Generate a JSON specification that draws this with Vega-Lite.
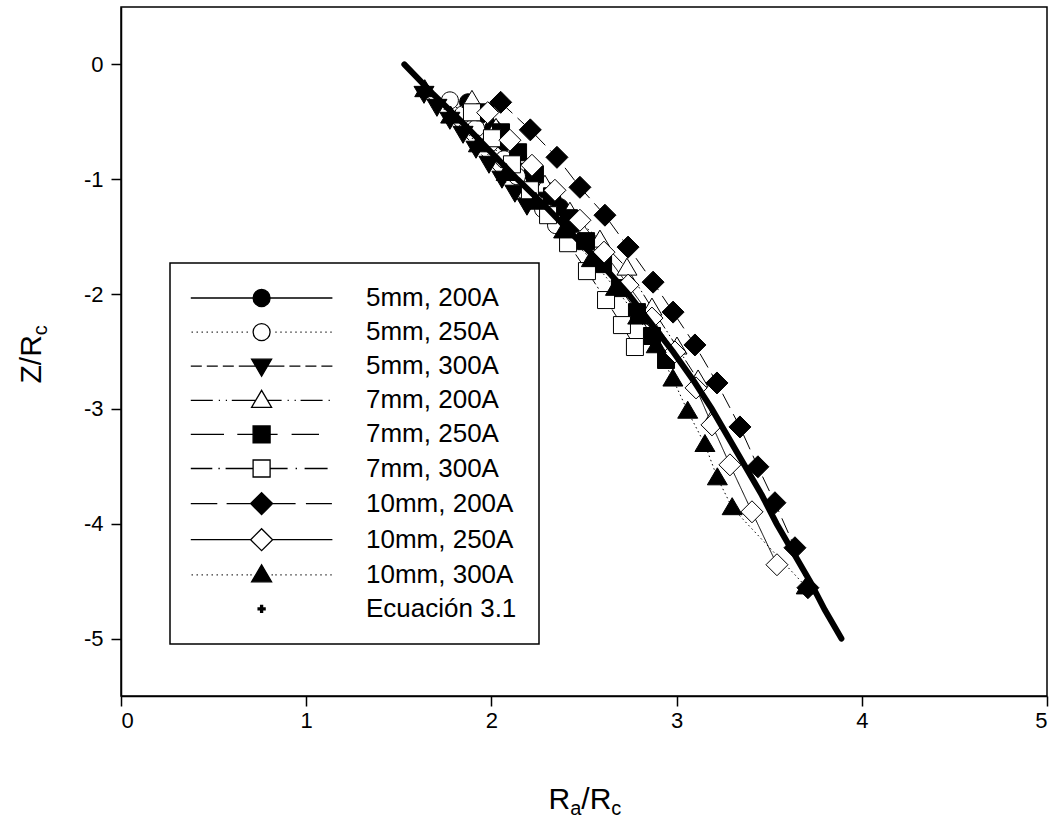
{
  "$schema": "https://vega.github.io/schema/vega-lite/v6.json",
  "width": 926,
  "height": 689,
  "autosize": "none",
  "padding": {"left": 121, "top": 7, "right": 10, "bottom": 122},
  "background": "white",
  "config": {
    "font": "Liberation Sans",
    "view": {"stroke": "black", "strokeWidth": 1.5},
    "legend": {"strokeWidth": 1.5},
    "axis": {
      "grid": false,
      "domainColor": "black",
      "domainWidth": 1.5,
      "tickColor": "black",
      "tickWidth": 1.5,
      "tickSize": 10,
      "labelFont": "Liberation Sans",
      "labelFontSize": 22,
      "labelColor": "black",
      "titleFont": "Liberation Sans",
      "titleColor": "black",
      "titleFontWeight": "normal"
    }
  },
  "data": {
    "values": [
      {"s": "5mm, 200A", "x": 1.874, "y": -0.33},
      {"s": "5mm, 200A", "x": 1.938, "y": -0.443},
      {"s": "5mm, 200A", "x": 2.009, "y": -0.557},
      {"s": "5mm, 200A", "x": 2.073, "y": -0.678},
      {"s": "5mm, 200A", "x": 2.144, "y": -0.809},
      {"s": "5mm, 200A", "x": 2.219, "y": -0.948},
      {"s": "5mm, 200A", "x": 2.295, "y": -1.096},
      {"s": "5mm, 200A", "x": 2.37, "y": -1.243},
      {"s": "5mm, 200A", "x": 2.446, "y": -1.391},
      {"s": "5mm, 250A", "x": 1.776, "y": -0.313},
      {"s": "5mm, 250A", "x": 1.847, "y": -0.435},
      {"s": "5mm, 250A", "x": 1.917, "y": -0.557},
      {"s": "5mm, 250A", "x": 1.992, "y": -0.687},
      {"s": "5mm, 250A", "x": 2.068, "y": -0.826},
      {"s": "5mm, 250A", "x": 2.138, "y": -0.974},
      {"s": "5mm, 250A", "x": 2.208, "y": -1.122},
      {"s": "5mm, 250A", "x": 2.279, "y": -1.261},
      {"s": "5mm, 250A", "x": 2.349, "y": -1.4},
      {"s": "5mm, 300A", "x": 1.636, "y": -0.252},
      {"s": "5mm, 300A", "x": 1.706, "y": -0.365},
      {"s": "5mm, 300A", "x": 1.776, "y": -0.478},
      {"s": "5mm, 300A", "x": 1.847, "y": -0.6},
      {"s": "5mm, 300A", "x": 1.917, "y": -0.73},
      {"s": "5mm, 300A", "x": 1.987, "y": -0.861},
      {"s": "5mm, 300A", "x": 2.057, "y": -0.991},
      {"s": "5mm, 300A", "x": 2.127, "y": -1.113},
      {"s": "5mm, 300A", "x": 2.192, "y": -1.226},
      {"s": "7mm, 200A", "x": 1.895, "y": -0.313},
      {"s": "7mm, 200A", "x": 2.025, "y": -0.557},
      {"s": "7mm, 200A", "x": 2.154, "y": -0.8},
      {"s": "7mm, 200A", "x": 2.289, "y": -1.052},
      {"s": "7mm, 200A", "x": 2.424, "y": -1.287},
      {"s": "7mm, 200A", "x": 2.586, "y": -1.53},
      {"s": "7mm, 200A", "x": 2.732, "y": -1.774},
      {"s": "7mm, 200A", "x": 2.867, "y": -2.122},
      {"s": "7mm, 200A", "x": 3.002, "y": -2.461},
      {"s": "7mm, 200A", "x": 3.116, "y": -2.748},
      {"s": "7mm, 200A", "x": 3.197, "y": -3.078},
      {"s": "7mm, 250A", "x": 1.965, "y": -0.417},
      {"s": "7mm, 250A", "x": 2.052, "y": -0.591},
      {"s": "7mm, 250A", "x": 2.144, "y": -0.765},
      {"s": "7mm, 250A", "x": 2.235, "y": -0.957},
      {"s": "7mm, 250A", "x": 2.327, "y": -1.148},
      {"s": "7mm, 250A", "x": 2.419, "y": -1.339},
      {"s": "7mm, 250A", "x": 2.511, "y": -1.539},
      {"s": "7mm, 250A", "x": 2.603, "y": -1.739},
      {"s": "7mm, 250A", "x": 2.694, "y": -1.948},
      {"s": "7mm, 250A", "x": 2.786, "y": -2.157},
      {"s": "7mm, 250A", "x": 2.867, "y": -2.365},
      {"s": "7mm, 250A", "x": 2.943, "y": -2.574},
      {"s": "7mm, 300A", "x": 1.895, "y": -0.417},
      {"s": "7mm, 300A", "x": 2.003, "y": -0.643},
      {"s": "7mm, 300A", "x": 2.111, "y": -0.87},
      {"s": "7mm, 300A", "x": 2.208, "y": -1.096},
      {"s": "7mm, 300A", "x": 2.306, "y": -1.313},
      {"s": "7mm, 300A", "x": 2.414, "y": -1.557},
      {"s": "7mm, 300A", "x": 2.516, "y": -1.8},
      {"s": "7mm, 300A", "x": 2.619, "y": -2.052},
      {"s": "7mm, 300A", "x": 2.705, "y": -2.27},
      {"s": "7mm, 300A", "x": 2.775, "y": -2.461},
      {"s": "10mm, 200A", "x": 2.05, "y": -0.33},
      {"s": "10mm, 200A", "x": 2.21, "y": -0.57},
      {"s": "10mm, 200A", "x": 2.354, "y": -0.809},
      {"s": "10mm, 200A", "x": 2.478, "y": -1.07},
      {"s": "10mm, 200A", "x": 2.613, "y": -1.313},
      {"s": "10mm, 200A", "x": 2.738, "y": -1.591},
      {"s": "10mm, 200A", "x": 2.873, "y": -1.896},
      {"s": "10mm, 200A", "x": 2.981, "y": -2.157},
      {"s": "10mm, 200A", "x": 3.099, "y": -2.443},
      {"s": "10mm, 200A", "x": 3.218, "y": -2.774},
      {"s": "10mm, 200A", "x": 3.342, "y": -3.157},
      {"s": "10mm, 200A", "x": 3.439, "y": -3.504},
      {"s": "10mm, 200A", "x": 3.531, "y": -3.817},
      {"s": "10mm, 200A", "x": 3.639, "y": -4.209},
      {"s": "10mm, 200A", "x": 3.709, "y": -4.557},
      {"s": "10mm, 250A", "x": 1.98, "y": -0.42},
      {"s": "10mm, 250A", "x": 2.1, "y": -0.66},
      {"s": "10mm, 250A", "x": 2.219, "y": -0.878},
      {"s": "10mm, 250A", "x": 2.343, "y": -1.096},
      {"s": "10mm, 250A", "x": 2.478, "y": -1.357},
      {"s": "10mm, 250A", "x": 2.608, "y": -1.635},
      {"s": "10mm, 250A", "x": 2.738, "y": -1.922},
      {"s": "10mm, 250A", "x": 2.867, "y": -2.209},
      {"s": "10mm, 250A", "x": 2.991, "y": -2.504},
      {"s": "10mm, 250A", "x": 3.105, "y": -2.817},
      {"s": "10mm, 250A", "x": 3.191, "y": -3.139},
      {"s": "10mm, 250A", "x": 3.288, "y": -3.487},
      {"s": "10mm, 250A", "x": 3.407, "y": -3.896},
      {"s": "10mm, 250A", "x": 3.542, "y": -4.357},
      {"s": "10mm, 300A", "x": 1.64, "y": -0.22},
      {"s": "10mm, 300A", "x": 1.78, "y": -0.45},
      {"s": "10mm, 300A", "x": 1.93, "y": -0.7},
      {"s": "10mm, 300A", "x": 2.08, "y": -0.95},
      {"s": "10mm, 300A", "x": 2.24, "y": -1.2},
      {"s": "10mm, 300A", "x": 2.39, "y": -1.45},
      {"s": "10mm, 300A", "x": 2.54, "y": -1.7},
      {"s": "10mm, 300A", "x": 2.67, "y": -1.95},
      {"s": "10mm, 300A", "x": 2.79, "y": -2.2},
      {"s": "10mm, 300A", "x": 2.89, "y": -2.45},
      {"s": "10mm, 300A", "x": 2.98, "y": -2.74},
      {"s": "10mm, 300A", "x": 3.06, "y": -3.02},
      {"s": "10mm, 300A", "x": 3.153, "y": -3.31},
      {"s": "10mm, 300A", "x": 3.22, "y": -3.6},
      {"s": "10mm, 300A", "x": 3.3, "y": -3.86},
      {"s": "10mm, 300A", "x": 3.7, "y": -4.55},
      {"s": "Ecuación 3.1", "x": 1.53, "y": 0},
      {"s": "Ecuación 3.1", "x": 1.68, "y": -0.25},
      {"s": "Ecuación 3.1", "x": 1.84, "y": -0.5},
      {"s": "Ecuación 3.1", "x": 1.99, "y": -0.75},
      {"s": "Ecuación 3.1", "x": 2.14, "y": -1.0},
      {"s": "Ecuación 3.1", "x": 2.3, "y": -1.25},
      {"s": "Ecuación 3.1", "x": 2.45, "y": -1.5},
      {"s": "Ecuación 3.1", "x": 2.6, "y": -1.75},
      {"s": "Ecuación 3.1", "x": 2.74, "y": -2.0},
      {"s": "Ecuación 3.1", "x": 2.86, "y": -2.25},
      {"s": "Ecuación 3.1", "x": 2.98, "y": -2.5},
      {"s": "Ecuación 3.1", "x": 3.09, "y": -2.75},
      {"s": "Ecuación 3.1", "x": 3.19, "y": -3.0},
      {"s": "Ecuación 3.1", "x": 3.28, "y": -3.25},
      {"s": "Ecuación 3.1", "x": 3.37, "y": -3.5},
      {"s": "Ecuación 3.1", "x": 3.46, "y": -3.75},
      {"s": "Ecuación 3.1", "x": 3.54, "y": -4.0},
      {"s": "Ecuación 3.1", "x": 3.63, "y": -4.25},
      {"s": "Ecuación 3.1", "x": 3.72, "y": -4.5},
      {"s": "Ecuación 3.1", "x": 3.8, "y": -4.75},
      {"s": "Ecuación 3.1", "x": 3.89, "y": -5.0}
    ]
  },
  "layer": [
    {
      "transform": [{"filter": "datum.s !== 'Ecuación 3.1'"}],
      "mark": {"type": "line", "color": "black", "strokeWidth": 1},
      "encoding": {
        "x": {"field": "x", "type": "quantitative", "scale": {"domain": [0, 5], "nice": false, "zero": false},
          "axis": {"orient": "bottom", "values": [0, 1, 2, 3, 4, 5], "labelPadding": 4, "labelExpr": "'' + datum.value",
            "title": "R", "titleFontSize": 30, "titleX": 427, "titleY": 112, "titleAlign": "left", "titleBaseline": "alphabetic", "titleAnchor": "start"}},
        "y": {"field": "y", "type": "quantitative", "scale": {"domain": [-5.5, 0.5], "nice": false, "zero": false},
          "axis": {"orient": "left", "values": [0, -1, -2, -3, -4, -5], "labelPadding": 8, "labelExpr": "'' + datum.value",
            "title": "Z/R", "titleFontSize": 30, "titleAngle": -90, "titleX": -81, "titleY": 376, "titleAlign": "left", "titleBaseline": "alphabetic"}},
        "strokeDash": {"field": "s", "type": "nominal",
          "scale": {"domain": ["5mm, 200A", "5mm, 250A", "5mm, 300A", "7mm, 200A", "7mm, 250A", "7mm, 300A", "10mm, 200A", "10mm, 250A", "10mm, 300A"],
            "range": [[1, 0], [1.5, 3], [9, 5], [14, 3, 1.5, 3, 1.5, 3], [20, 8], [14, 3, 2, 3], [16, 7], [1, 0], [1.5, 3]]},
          "legend": null},
        "order": {"field": "y", "sort": "descending"}
      }
    },
    {
      "transform": [{"filter": "datum.s !== 'Ecuación 3.1'"}],
      "mark": {"type": "point", "filled": true, "stroke": "black", "strokeWidth": 1, "size": 400, "opacity": 1},
      "encoding": {
        "x": {"field": "x", "type": "quantitative",
          "axis": {"orient": "bottom", "title": "a", "titleFontSize": 20, "titleX": 448.7, "titleY": 118, "titleAlign": "left", "titleBaseline": "alphabetic", "domain": false, "ticks": false, "labels": false}},
        "y": {"field": "y", "type": "quantitative",
          "axis": {"orient": "left", "title": "c", "titleFontSize": 20, "titleAngle": -90, "titleX": -75, "titleY": 327.7, "titleAlign": "left", "titleBaseline": "alphabetic", "domain": false, "ticks": false, "labels": false}},
        "shape": {"field": "s", "type": "nominal",
          "scale": {"domain": ["5mm, 200A", "5mm, 250A", "5mm, 300A", "7mm, 200A", "7mm, 250A", "7mm, 300A", "10mm, 200A", "10mm, 250A", "10mm, 300A"],
            "range": [
              "M0.85,0C0.85,0.47,0.47,0.85,0,0.85C-0.47,0.85,-0.85,0.47,-0.85,0C-0.85,-0.47,-0.47,-0.85,0,-0.85C0.47,-0.85,0.85,-0.47,0.85,0Z",
              "M0.85,0C0.85,0.47,0.47,0.85,0,0.85C-0.47,0.85,-0.85,0.47,-0.85,0C-0.85,-0.47,-0.47,-0.85,0,-0.85C0.47,-0.85,0.85,-0.47,0.85,0Z",
              "M-1,-0.7L1,-0.7L0,1Z",
              "M0,-1L1,0.7L-1,0.7Z",
              "M-0.85,-0.85L0.85,-0.85L0.85,0.85L-0.85,0.85Z",
              "M-0.85,-0.85L0.85,-0.85L0.85,0.85L-0.85,0.85Z",
              "M0,-1.1L1.1,0L0,1.1L-1.1,0Z",
              "M0,-1.1L1.1,0L0,1.1L-1.1,0Z",
              "M0,-1L1,0.7L-1,0.7Z"
            ]},
          "legend": null},
        "fill": {"field": "s", "type": "nominal",
          "scale": {"domain": ["5mm, 200A", "5mm, 250A", "5mm, 300A", "7mm, 200A", "7mm, 250A", "7mm, 300A", "10mm, 200A", "10mm, 250A", "10mm, 300A"],
            "range": ["black", "white", "black", "white", "black", "white", "black", "white", "black"]},
          "legend": null}
      }
    },
    {
      "mark": {"type": "point", "filled": true, "stroke": "black", "strokeWidth": 1.3, "size": 400, "opacity": 0},
      "encoding": {
        "x": {"field": "x", "type": "quantitative",
          "axis": {"orient": "bottom", "title": "/R", "titleFontSize": 30, "titleX": 459.8, "titleY": 112, "titleAlign": "left", "titleBaseline": "alphabetic", "domain": false, "ticks": false, "labels": false}},
        "y": {"field": "y", "type": "quantitative", "axis": null},
        "shape": {"field": "s", "type": "nominal",
          "scale": {"domain": ["5mm, 200A", "5mm, 250A", "5mm, 300A", "7mm, 200A", "7mm, 250A", "7mm, 300A", "10mm, 200A", "10mm, 250A", "10mm, 300A", "Ecuación 3.1"],
            "range": [
              "M-7.08,0L-0.85,0M0.85,0L7.08,0M0.85,0C0.85,0.47,0.47,0.85,0,0.85C-0.47,0.85,-0.85,0.47,-0.85,0C-0.85,-0.47,-0.47,-0.85,0,-0.85C0.47,-0.85,0.85,-0.47,0.85,0Z",
              "M-7,0L-6.88,0M-6.5,0L-6.38,0M-6,0L-5.88,0M-5.5,0L-5.38,0M-5,0L-4.88,0M-4.5,0L-4.38,0M-4,0L-3.88,0M-3.5,0L-3.38,0M-3,0L-2.88,0M-2.5,0L-2.38,0M-2,0L-1.88,0M-1.5,0L-1.38,0M1.38,0L1.5,0M1.88,0L2,0M2.38,0L2.5,0M2.88,0L3,0M3.38,0L3.5,0M3.88,0L4,0M4.38,0L4.5,0M4.88,0L5,0M5.38,0L5.5,0M5.88,0L6,0M6.38,0L6.5,0M6.88,0L7,0M0.85,0C0.85,0.47,0.47,0.85,0,0.85C-0.47,0.85,-0.85,0.47,-0.85,0C-0.85,-0.47,-0.47,-0.85,0,-0.85C0.47,-0.85,0.85,-0.47,0.85,0Z",
              "M-7.08,0L-5.98,0M-5.48,0L-4.38,0M-3.88,0L-2.78,0M-2.28,0L-0.59,0M0.59,0L2.28,0M2.78,0L3.88,0M4.38,0L5.48,0M5.98,0L7.08,0M-1,-0.7L1,-0.7L0,1Z",
              "M-7.08,0L-4.88,0M-4.28,0L-4.16,0M-3.58,0L-3.46,0M-2.98,0L-0.59,0M0.59,0L2,0M2.6,0L2.72,0M3.3,0L3.42,0M3.9,0L6.1,0M6.7,0L6.82,0M0,-1L1,0.7L-1,0.7Z",
              "M-7.08,0L-3.76,0M-2.43,0L-0.85,0M0.85,0L1.6,0M3,0L5.74,0M-0.85,-0.85L0.85,-0.85L0.85,0.85L-0.85,0.85Z",
              "M-7.08,0L-4.93,0M-4.32,0L-4.18,0M-3.6,0L-0.85,0M0.85,0L2.6,0M3.4,0L3.54,0M4.3,0L6.6,0M-0.85,-0.85L0.85,-0.85L0.85,0.85L-0.85,0.85Z",
              "M-7.08,0L-4.43,0M-3.5,0L-1.1,0M1.1,0L3.4,0M4.43,0L7.03,0M0,-1.1L1.1,0L0,1.1L-1.1,0Z",
              "M-7.08,0L-1.1,0M1.1,0L7.08,0M0,-1.1L1.1,0L0,1.1L-1.1,0Z",
              "M-7,0L-6.88,0M-6.5,0L-6.38,0M-6,0L-5.88,0M-5.5,0L-5.38,0M-5,0L-4.88,0M-4.5,0L-4.38,0M-4,0L-3.88,0M-3.5,0L-3.38,0M-3,0L-2.88,0M-2.5,0L-2.38,0M-2,0L-1.88,0M-1.5,0L-1.38,0M-1.12,0L-1,0M1,0L1.12,0M1.38,0L1.5,0M1.88,0L2,0M2.38,0L2.5,0M2.88,0L3,0M3.38,0L3.5,0M3.88,0L4,0M4.38,0L4.5,0M4.88,0L5,0M5.38,0L5.5,0M5.88,0L6,0M6.38,0L6.5,0M6.88,0L7,0M0,-1L1,0.7L-1,0.7Z",
              "M-0.35,-0.1L-0.1,-0.1L-0.1,-0.35L0.1,-0.35L0.1,-0.1L0.35,-0.1L0.35,0.1L0.1,0.1L0.1,0.35L-0.1,0.35L-0.1,0.1L-0.35,0.1Z"
            ]},
          "legend": {"title": null, "orient": "none", "legendX": 49, "legendY": 256, "direction": "vertical",
            "symbolSize": 400, "symbolStrokeWidth": 1.3, "symbolStrokeColor": "black", "symbolOpacity": 1, "symbolOffset": 56.6,
            "labelOffset": 91.4, "labelFont": "Liberation Sans", "labelFontSize": 26, "labelColor": "black", "labelLimit": 0,
            "rowPadding": 8.1, "padding": 22, "strokeColor": "black", "fillColor": "white",
            "encode": {"symbols": {"update": {"stroke": {"value": "black"}, "strokeWidth": {"value": 1.3}, "opacity": {"value": 1}, "strokeOpacity": {"value": 1}}}}}},
        "fill": {"field": "s", "type": "nominal",
          "scale": {"domain": ["5mm, 200A", "5mm, 250A", "5mm, 300A", "7mm, 200A", "7mm, 250A", "7mm, 300A", "10mm, 200A", "10mm, 250A", "10mm, 300A", "Ecuación 3.1"],
            "range": ["black", "white", "black", "white", "black", "white", "black", "white", "black", "black"]},
          "legend": {"title": null, "orient": "none", "legendX": 49, "legendY": 256, "direction": "vertical",
            "symbolSize": 400, "symbolStrokeWidth": 1.3, "symbolStrokeColor": "black", "symbolOpacity": 1, "symbolOffset": 56.6,
            "labelOffset": 91.4, "labelFont": "Liberation Sans", "labelFontSize": 26, "labelColor": "black", "labelLimit": 0,
            "rowPadding": 8.1, "padding": 22, "strokeColor": "black", "fillColor": "white",
            "encode": {"symbols": {"update": {"stroke": {"value": "black"}, "strokeWidth": {"value": 1.3}, "opacity": {"value": 1}, "strokeOpacity": {"value": 1}}}}}}
      }
    },
    {
      "transform": [{"filter": "datum.s === 'Ecuación 3.1'"}],
      "mark": {"type": "line", "color": "black", "strokeWidth": 6, "strokeCap": "round"},
      "encoding": {
        "x": {"field": "x", "type": "quantitative",
          "axis": {"orient": "bottom", "title": "c", "titleFontSize": 20, "titleX": 489.8, "titleY": 118, "titleAlign": "left", "titleBaseline": "alphabetic", "domain": false, "ticks": false, "labels": false}},
        "y": {"field": "y", "type": "quantitative", "axis": null},
        "order": {"field": "y", "sort": "descending"}
      }
    }
  ],
  "resolve": {
    "scale": {"shape": "independent", "fill": "independent", "strokeDash": "independent"},
    "axis": {"x": "independent", "y": "independent"}
  }
}
